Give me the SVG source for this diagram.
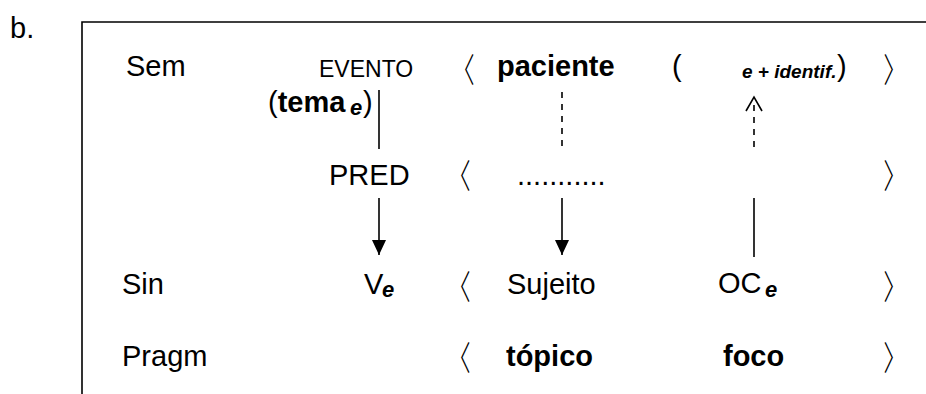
<svg xmlns="http://www.w3.org/2000/svg" width="926" height="394" viewBox="0 0 926 394">
<style>
text{font-family:"Liberation Sans",Arial,sans-serif;font-size:29px;fill:#000}
.b{font-weight:bold}
.sm{font-size:23px}
.sub{font-size:22px;font-weight:bold;font-style:italic}
.note{font-size:19px;font-weight:bold;font-style:italic}
.br{font-family:"DejaVu Sans",sans-serif;font-size:35px}
.ln{stroke:#000;stroke-width:1.6;fill:none}
.dash{stroke:#000;stroke-width:1.6;fill:none;stroke-dasharray:6 6}
</style>
<defs>
<marker id="tri" markerWidth="14" markerHeight="16" refX="7" refY="15" orient="0" markerUnits="userSpaceOnUse">
<path d="M0,0 L14,0 L7,15 Z" fill="#000"/>
</marker>
</defs>
<rect width="926" height="394" fill="#fff"/>
<text x="10" y="38">b.</text>
<path d="M82,394 V22 H926" class="ln"/>
<g id="labels">
<text x="126" y="76">Sem</text>
<text x="122" y="294">Sin</text>
<text x="122" y="366">Pragm</text>
</g>
<g id="evento"><text class="sm" x="319" y="77">EVENTO</text></g>
<g id="tema"><text x="268" y="112">(<tspan class="b">tema</tspan><tspan class="sub" x="350" y="115">e</tspan><tspan x="363" y="112">)</tspan></text></g>
<g id="paciente"><text class="b" x="497" y="76">paciente</text></g>
<g id="identif"><text x="672" y="76">(</text><text class="note" x="742" y="78">e + identif.</text><text x="837" y="76">)</text></g>
<g id="pred"><text x="329" y="185">PRED</text></g>
<g id="dots"><text x="517" y="185">...........</text></g>
<g id="ve"><text x="364" y="294">V<tspan class="sub" x="382" y="297">e</tspan></text></g>
<g id="sujeito"><text x="507" y="294">Sujeito</text></g>
<g id="oce"><text x="718" y="293">OC<tspan class="sub" x="765" y="297">e</tspan></text></g>
<g id="topico"><text class="b" x="506" y="366">tópico</text></g>
<g id="foco"><text class="b" x="723" y="366">foco</text></g>
<g id="brackets">
<text class="br" x="443" y="82">〈</text><text class="br" x="880" y="82">〉</text>
<text class="br" x="439" y="188">〈</text><text class="br" x="880" y="188">〉</text>
<text class="br" x="439" y="299">〈</text><text class="br" x="880" y="299">〉</text>
<text class="br" x="439" y="370">〈</text><text class="br" x="880" y="370">〉</text>
</g>
<g id="connectors">
<line x1="379" y1="90" x2="379" y2="149" class="ln"/>
<line x1="562" y1="92" x2="562" y2="150" class="dash"/>
<line x1="754" y1="147" x2="754" y2="99" class="dash"/>
<path d="M746,111 L754,97 L762,111" class="ln"/>
<line x1="379" y1="198" x2="379" y2="255" class="ln" marker-end="url(#tri)"/>
<line x1="562" y1="198" x2="562" y2="255" class="ln" marker-end="url(#tri)"/>
<line x1="754" y1="198" x2="754" y2="257" class="ln"/>
</g>
</svg>
